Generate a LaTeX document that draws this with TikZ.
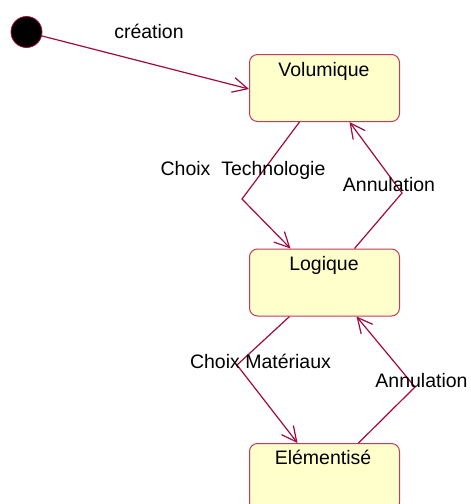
\documentclass[tikz,border=0pt]{standalone}
\usepackage{fontspec}
\setmainfont{Liberation Sans}
\usetikzlibrary{arrows.meta}
\definecolor{edge}{RGB}{160,10,65}
\definecolor{boxline}{RGB}{190,60,95}
\definecolor{boxfill}{RGB}{255,255,204}
\begin{document}
\begin{tikzpicture}[x=1pt,y=-1pt,
  state/.style={draw=boxline,line width=1pt,fill=boxfill,rounded corners=8pt,
    minimum width=150pt,minimum height=67pt,inner sep=0pt,anchor=north west},
  stxt/.style={anchor=base,inner sep=0pt,font=\fontsize{19.5}{22}\selectfont},
  lbl/.style={anchor=base,inner sep=0pt,font=\fontsize{19.5}{22}\selectfont},
  trans/.style={draw=edge,line width=1.2pt,-{Straight Barb[length=15pt,width=15pt,line width=1.2pt]}},
  initial/.style={circle,fill=black,draw=edge,line width=0.8pt,minimum size=31pt,inner sep=0pt}]
\useasboundingbox (0,0) rectangle (471,504);
\clip (0,0) rectangle (471,504);
\node[initial] (start) at (26.5,32) {};
\node[state] (vol) at (249,54) {};
\node[state] (log) at (249,248.5) {};
\node[state] (ele) at (249,443) {};
\node[stxt] (voltxt) at (324,76) {Volumique};
\node[stxt] (logtxt) at (324,270) {Logique};
\node[stxt] (eletxt) at (323,464) {Elémentisé};
% transitions
\draw[trans] (start) -- ([yshift=-1pt]vol.west);
\node[lbl] (l1) at (149,38) {création};
\coordinate (b1) at (242,199);
\coordinate (b2) at (402,193);
\coordinate (b3) at (237,365);
\coordinate (b4) at (415,387);
\draw[trans] ([xshift=-25pt]vol.south) -- (b1) -- ([xshift=-34pt]log.north);
\draw[trans] ([xshift=30pt]log.north) -- (b2) -- ([xshift=25pt]vol.south);
\draw[trans] ([xshift=-35pt]log.south) -- (b3) -- ([xshift=-27pt]ele.north);
\draw[trans] ([xshift=34pt]ele.north) -- (b4) -- ([xshift=32pt]log.south);
\node[lbl] (l2) at (243,175) {Choix\ \ Technologie};
\node[lbl] (l3) at (389,191) {Annulation};
\node[lbl] (l4) at (260.5,368) {Choix Matériaux};
\node[lbl] (l5) at (421.5,387) {Annulation};
\end{tikzpicture}
\end{document}
